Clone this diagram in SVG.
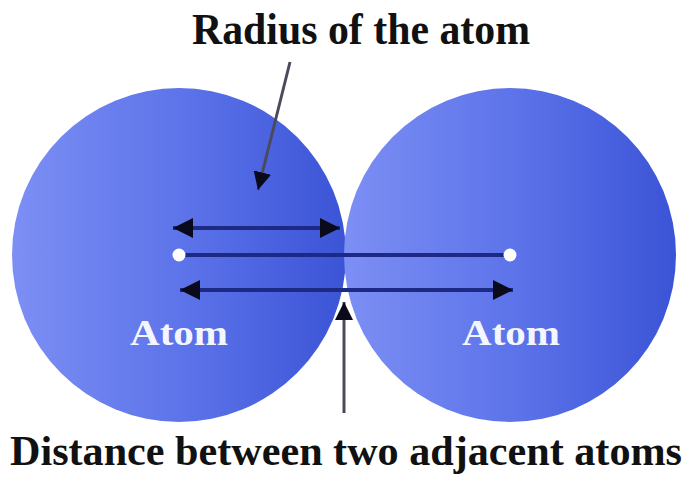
<svg xmlns="http://www.w3.org/2000/svg" width="688" height="479" viewBox="0 0 688 479">
  <style>
    .title { font-family: "Liberation Serif", "Times New Roman", serif; font-weight: bold; fill: #111; }
    .atom { font-family: "Liberation Serif", "Times New Roman", serif; font-weight: bold; font-size: 36px; fill: #f4f6ff; }
    .bond { stroke: #1c2a86; stroke-width: 4; fill: none; }
    .dim { stroke: #1c2a86; stroke-width: 4; fill: none; }
    .pointer { stroke: #4a4a5a; stroke-width: 3; fill: none; }
  </style>
  <defs>
    <linearGradient id="atomGrad" x1="0" y1="0" x2="1" y2="0">
      <stop offset="0" stop-color="#7d8ff4"/>
      <stop offset="0.5" stop-color="#5d74ea"/>
      <stop offset="1" stop-color="#3b54d6"/>
    </linearGradient>
    <marker id="head" viewBox="0 0 10 10" refX="10" refY="5" markerWidth="5.5" markerHeight="5" markerUnits="strokeWidth" orient="auto-start-reverse">
      <path d="M0,0 L10,5 L0,10 Z" fill="#0a0a1a"/>
    </marker>
    <marker id="headThin" viewBox="0 0 10 10" refX="10" refY="5" markerWidth="6" markerHeight="6" markerUnits="strokeWidth" orient="auto-start-reverse">
      <path d="M0,0 L10,5 L0,10 Z" fill="#0a0a1a"/>
    </marker>
  </defs>

  <g id="atom-left">
    <ellipse cx="179" cy="255" rx="167" ry="167" fill="url(#atomGrad)"/>
    <text class="atom" x="179" y="345" text-anchor="middle" textLength="98" lengthAdjust="spacingAndGlyphs">Atom</text>
  </g>
  <g id="atom-right">
    <ellipse cx="510" cy="255" rx="166" ry="167" fill="url(#atomGrad)"/>
    <text class="atom" x="511" y="345" text-anchor="middle" textLength="98" lengthAdjust="spacingAndGlyphs">Atom</text>
  </g>

  <g id="connectors">
    <line class="bond" x1="184" y1="255" x2="504" y2="255"/>
    <line class="dim" x1="173" y1="228" x2="340" y2="228" marker-start="url(#head)" marker-end="url(#head)"/>
    <line class="dim" x1="180" y1="290" x2="513" y2="290" marker-start="url(#head)" marker-end="url(#head)"/>
    <line class="pointer" x1="290" y1="62" x2="258" y2="190" marker-end="url(#headThin)"/>
    <line class="pointer" x1="344" y1="413" x2="344" y2="302" marker-end="url(#headThin)"/>
  </g>

  <g id="centers">
    <circle cx="179" cy="255" r="6.5" fill="#ffffff"/>
    <circle cx="510" cy="255" r="6.5" fill="#ffffff"/>
  </g>

  <g id="label-radius">
    <text class="title" x="361" y="44" font-size="44" text-anchor="middle" textLength="338" lengthAdjust="spacingAndGlyphs">Radius of the atom</text>
  </g>
  <g id="label-distance">
    <text class="title" x="346" y="465" font-size="42" text-anchor="middle" textLength="672" lengthAdjust="spacingAndGlyphs">Distance between two adjacent atoms</text>
  </g>
</svg>
